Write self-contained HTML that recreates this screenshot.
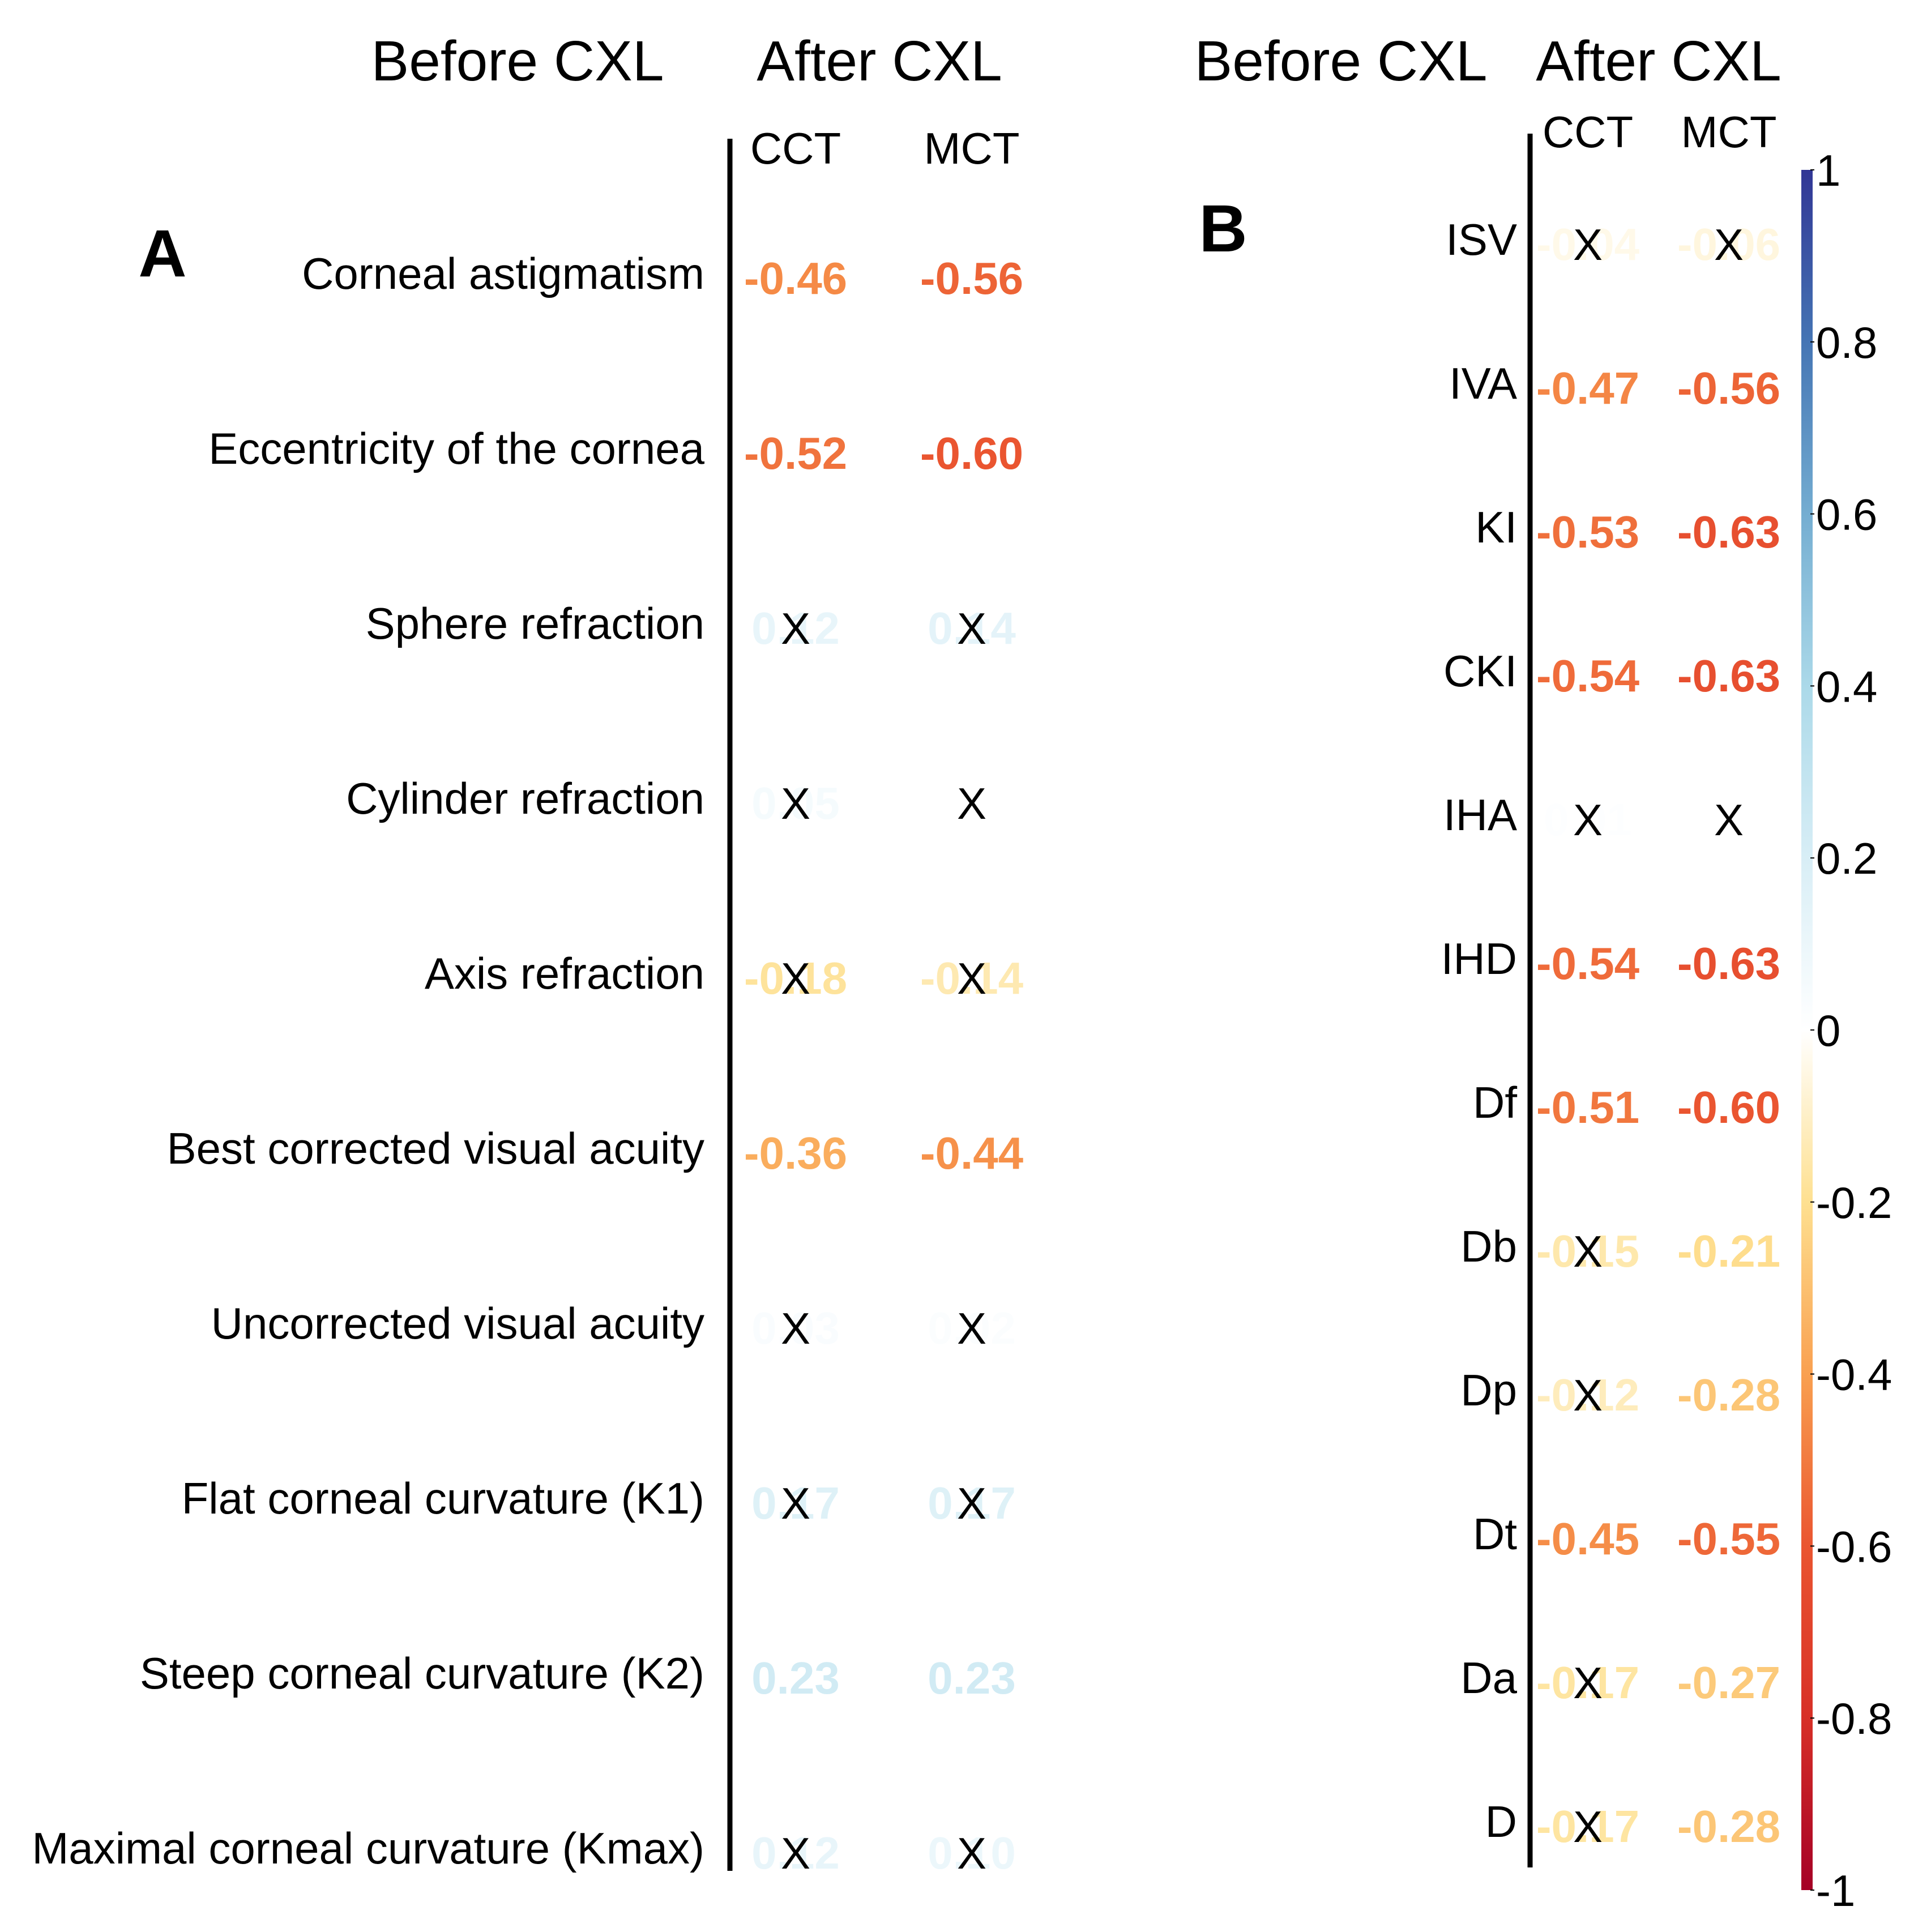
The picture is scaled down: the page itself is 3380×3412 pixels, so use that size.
<!DOCTYPE html>
<html><head><meta charset="utf-8"><style>
html,body{margin:0;padding:0;background:#fff}
svg{display:block}
text{font-family:"Liberation Sans",sans-serif}
</style></head><body>
<svg id="chart" width="3380" height="3412" viewBox="0 0 3380 3412" xmlns="http://www.w3.org/2000/svg">
<defs>
<linearGradient id="cbgrad" x1="0" y1="0" x2="0" y2="1">
<stop offset="0" stop-color="#313695"/><stop offset="0.1" stop-color="#4575b4"/><stop offset="0.2" stop-color="#74add1"/><stop offset="0.3" stop-color="#abd9e9"/><stop offset="0.4" stop-color="#d8eef6"/><stop offset="0.5" stop-color="#ffffff"/><stop offset="0.6" stop-color="#fee090"/><stop offset="0.7" stop-color="#f9a050"/><stop offset="0.8" stop-color="#ea5530"/><stop offset="0.9" stop-color="#d73027"/><stop offset="1" stop-color="#a50026"/>
</linearGradient>
</defs>
<g id="root"></g>
</svg>
<script>
const rowsA = ["Corneal astigmatism","Eccentricity of the cornea","Sphere refraction","Cylinder refraction","Axis refraction","Best corrected visual acuity","Uncorrected visual acuity","Flat corneal curvature (K1)","Steep corneal curvature (K2)","Maximal corneal curvature (Kmax)"];
const cctA = [-0.46,-0.52,0.12,0.05,-0.18,-0.36,0.03,0.17,0.23,0.12];
const mctA = [-0.56,-0.60,0.14,0.00,-0.14,-0.44,0.02,0.17,0.23,0.10];
const nsCctA = [false,false,true,true,true,false,true,true,false,true];
const nsMctA = [false,false,true,true,true,false,true,true,false,true];
const rowsB = ["ISV","IVA","KI","CKI","IHA","IHD","Df","Db","Dp","Dt","Da","D"];
const cctB = [-0.04,-0.47,-0.53,-0.54,0.01,-0.54,-0.51,-0.15,-0.12,-0.45,-0.17,-0.17];
const mctB = [-0.06,-0.56,-0.63,-0.63,0.00,-0.63,-0.60,-0.21,-0.28,-0.55,-0.27,-0.28];
const nsCctB = [true,false,false,false,true,false,false,true,true,false,true,true];
const nsMctB = [true,false,false,false,true,false,false,false,false,false,false,false];
const cbTicks = [1,0.8,0.6,0.4,0.2,0,-0.2,-0.4,-0.6,-0.8,-1];

const NS="http://www.w3.org/2000/svg";
const root=document.getElementById('root');
const stops=[[-1,[165,0,38]],[-0.8,[215,48,39]],[-0.6,[234,85,48]],[-0.4,[249,160,80]],[-0.2,[254,224,144]],[0,[255,255,255]],[0.2,[216,238,246]],[0.4,[171,217,233]],[0.6,[116,173,209]],[0.8,[69,117,180]],[1,[49,54,149]]];
function color(v){
  for(let i=0;i<stops.length-1;i++){
    const a=stops[i],b=stops[i+1];
    if(v>=a[0]&&v<=b[0]){const t=(v-a[0])/(b[0]-a[0]);
      const c=a[1].map((x,k)=>Math.round(x+(b[1][k]-x)*t));return `rgb(${c})`;}
  }
  return v<0?'rgb(165,0,38)':'rgb(49,54,149)';
}
function txt(x,y,s,size,opts){
  const t=document.createElementNS(NS,'text');
  t.setAttribute('x',x);t.setAttribute('y',y);t.setAttribute('font-size',size);
  t.setAttribute('text-anchor',opts.anchor||'middle');
  t.setAttribute('fill',opts.fill||'#000');
  if(opts.bold)t.setAttribute('font-weight','bold');
  t.textContent=s;root.appendChild(t);return t;
}
function line(x1,y1,x2,y2,w){
  const l=document.createElementNS(NS,'line');
  l.setAttribute('x1',x1);l.setAttribute('y1',y1);l.setAttribute('x2',x2);l.setAttribute('y2',y2);
  l.setAttribute('stroke','#000');l.setAttribute('stroke-width',w);root.appendChild(l);return l;
}
function fmt(v){return v.toFixed(2);}

let e;
e=txt(914,142,"Before CXL",100,{});


e=txt(1553,142,"After CXL",100,{});


e=txt(2368,142,"Before CXL",100,{});


e=txt(2929,142,"After CXL",100,{});


e=txt(287,488,"A",118,{bold:true});


e=txt(2160,444,"B",118,{bold:true});



function panel(rows,c1,c2,n1,n2,cfg,prefix){
  e=line(cfg.lx,cfg.top,cfg.lx,cfg.bot,9);
  
  
  e=txt(cfg.x1,cfg.hy,"CCT",78,{});
  
  
  e=txt(cfg.x2,cfg.hy,"MCT",78,{});
  
  
  rows.forEach((r,i)=>{
    const y=cfg.y0+i*cfg.step;
    e=txt(cfg.lab,y,r,78,{anchor:'end'});
    
    
    [[c1[i],n1[i],cfg.x1,'cct'],[c2[i],n2[i],cfg.x2,'mct']].forEach(([v,ns,x,k])=>{
      e=txt(x,y+9,fmt(v),80,{bold:true,fill:color(v)});
      
      
      if(ns){
        e=txt(x,y+9,"X",78,{});
        
        
      }
    });
  });
}
panel(rowsA,cctA,mctA,nsCctA,nsMctA,{lx:1289,top:245,bot:3304,x1:1405,x2:1716,hy:289,y0:510,step:309,lab:1244},'panel-a');
panel(rowsB,cctB,mctB,nsCctB,nsMctB,{lx:2702,top:236,bot:3298,x1:2804,x2:3053,hy:260,y0:450,step:254,lab:2679},'panel-b');

const cbTop=300,cbBot=3338,cbX=3181,cbW=20;
function cy(v){return cbTop+(1-v)/2*(cbBot-cbTop);}
const rect=document.createElementNS(NS,'rect');
rect.setAttribute('x',cbX);rect.setAttribute('y',cbTop);rect.setAttribute('width',cbW);rect.setAttribute('height',cbBot-cbTop);
rect.setAttribute('fill','url(#cbgrad)');


root.appendChild(rect);
cbTicks.forEach(v=>{
  e=line(cbX+cbW-4,cy(v),cbX+cbW+3,cy(v),2);
  
  
  e=txt(cbX+cbW+6,cy(v)+28,String(v),78,{anchor:'start'});
  
  
});
</script>
</body></html>
